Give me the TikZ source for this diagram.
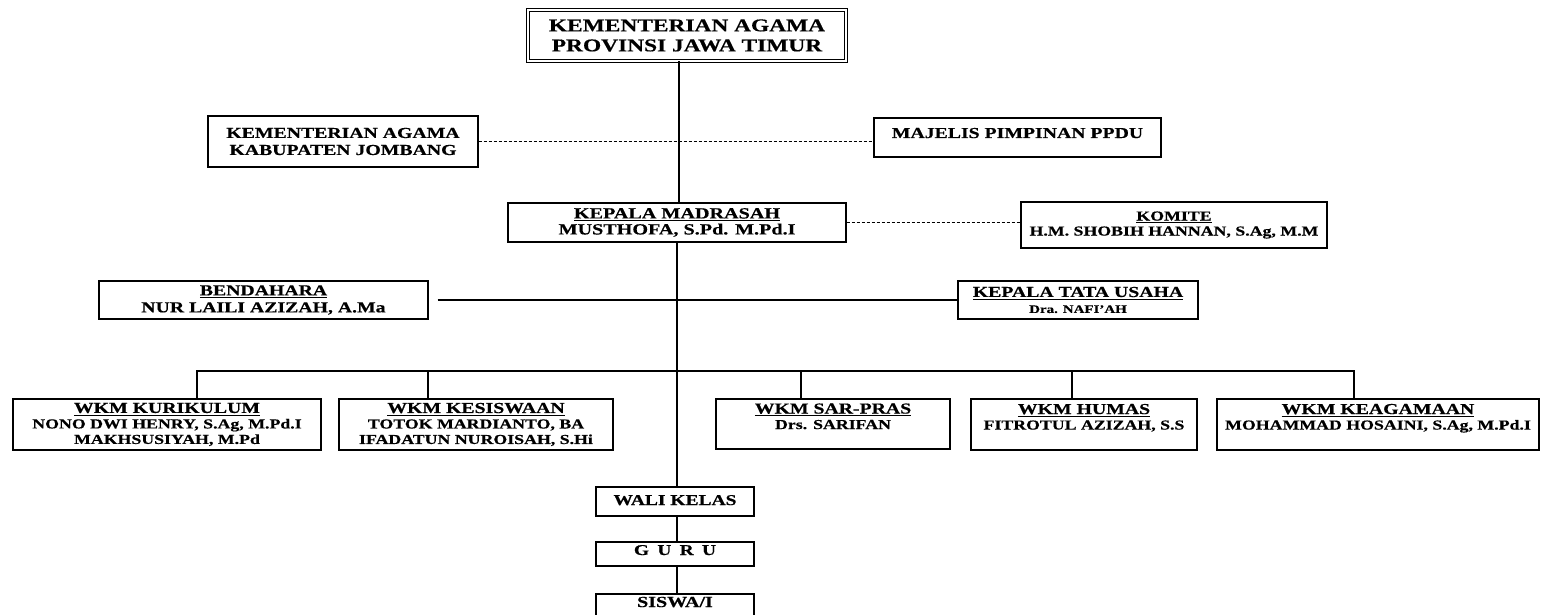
\documentclass[tikz,border=0pt]{standalone}
\usepackage{fontspec}
\setmainfont{Liberation Serif}[FakeStretch=1.3, BoldFeatures={FakeBold=0.5}]
\newcommand\myfs[2]{\fontsize{#1}{#2}\selectfont}
\newcommand\myul[1]{\setbox0\hbox{#1}\rlap{\vrule width\wd0 height -1.6pt depth 2.9pt}\box0}
\tikzset{
  box/.style={draw, line width=1.1pt, rectangle, inner sep=0pt, align=center, text=black},
  conn/.style={line width=1.3pt},
  dashconn/.style={line width=0.8pt, dash pattern=on 3pt off 2pt},
}
\begin{document}
\begin{tikzpicture}[x=1pt,y=-1pt]
\clip (0,0) rectangle (1541,615);
\fill[white] (0,0) rectangle (1541,615);

% top
\node[box, double, double distance=2pt, line width=0.9pt, minimum width=318, minimum height=51,
      font=\bfseries\myfs{18}{20}] (top) at (687,35.5) {KEMENTERIAN AGAMA\\PROVINSI JAWA TIMUR};

% second level
\node[box, minimum width=270, minimum height=51, font=\bfseries\myfs{15.2}{17}] (jombang) at (343,141.5)
  {KEMENTERIAN AGAMA\\KABUPATEN JOMBANG};
\node[box, minimum width=287, text height=20pt, text depth=19pt, font=\bfseries\myfs{15.2}{17}] (majelis) at (1017.5,137.5)
  {MAJELIS PIMPINAN PPDU};

% kepala madrasah & komite
\node[box, minimum width=338, minimum height=39, font=\bfseries\myfs{15.5}{16}] (kepala) at (677,222.5)
  {\myul{KEPALA MADRASAH}\\MUSTHOFA, S.Pd. M.Pd.I};
\node[box, minimum width=306, minimum height=46, font=\bfseries\myfs{13.7}{15}] (komite) at (1174,225)
  {\myul{KOMITE}\\H.M. SHOBIH HANNAN, S.Ag, M.M};

% bendahara & tata usaha
\node[box, minimum width=329, minimum height=38, font=\bfseries\myfs{15.2}{17}] (bend) at (263.5,300)
  {\myul{BENDAHARA}\\NUR LAILI AZIZAH, A.Ma};
\node[box, minimum width=240, minimum height=38, font=\bfseries\myfs{15.2}{16}] (ktu) at (1078,300)
  {\myul{KEPALA TATA USAHA}\\{\myfs{11.5}{16}Dra. NAFI'AH}};

% WKM row
\node[box, minimum width=308, minimum height=51, font=\bfseries\myfs{13.7}{15.5}] (kur) at (167,424.5)
  {{\myfs{15.2}{15.5}\myul{WKM KURIKULUM}}\\NONO DWI HENRY, S.Ag, M.Pd.I\\MAKHSUSIYAH, M.Pd};
\node[box, minimum width=274, minimum height=51, font=\bfseries\myfs{13.7}{15.5}] (kes) at (476,424.5)
  {{\myfs{15.2}{15.5}\myul{WKM KESISWAAN}}\\TOTOK MARDIANTO, BA\\IFADATUN NUROISAH, S.Hi};
\node[box, minimum width=234, minimum height=50, font=\bfseries\myfs{13.7}{15.5}] (sar) at (833,424)
  {{\myfs{15.2}{15.5}\myul{WKM SAR-PRAS}}\\Drs. SARIFAN\\\mbox{}};
\node[box, minimum width=226, minimum height=51, font=\bfseries\myfs{13.7}{15.5}] (hum) at (1084,424.5)
  {{\myfs{15.2}{15.5}\myul{WKM HUMAS}}\\FITROTUL AZIZAH, S.S\\\mbox{}};
\node[box, minimum width=322, minimum height=51, font=\bfseries\myfs{13.7}{15.5}] (kea) at (1378,424.5)
  {{\myfs{15.2}{15.5}\myul{WKM KEAGAMAAN}}\\MOHAMMAD HOSAINI, S.Ag, M.Pd.I\\\mbox{}};

% bottom chain
\node[box, minimum width=158, text height=18pt, text depth=11pt, font=\bfseries\myfs{15}{16}] (wali) at (675,501.5)
  {WALI KELAS};
\node[box, minimum width=158, text height=13pt, text depth=11pt, font=\bfseries\myfs{15}{16}] (guru) at (675,554)
  {{\spaceskip=0.55em G U R U}};
\node[box, minimum width=158, text height=13pt, text depth=11pt, font=\bfseries\myfs{15.4}{16}] (siswa) at (675,606)
  {SISWA/I};

% connectors
\coordinate (bus) at (677,371);
\draw[conn] ([xshift=2pt]kepala.north) -- ([xshift=2pt]kepala.north |- top.south);
\draw[dashconn] (jombang.east) -- (jombang.east -| majelis.west);
\draw[dashconn] (kepala.east) -- (kepala.east -| komite.west);
\draw[conn] ([xshift=9pt]bend.east) -- (ktu.west);
\draw[conn] (kepala.south) -- (kepala.south |- wali.north);
\draw[conn] ([xshift=30pt]kur.north) -- ([xshift=30pt]kur.north |- bus) -- ([xshift=-24pt]kea.north |- bus) -- ([xshift=-24pt]kea.north);
\draw[conn] ([xshift=-48pt]kes.north) -- ([xshift=-48pt]kes.north |- bus);
\draw[conn] ([xshift=-32pt]sar.north) -- ([xshift=-32pt]sar.north |- bus);
\draw[conn] ([xshift=-12pt]hum.north) -- ([xshift=-12pt]hum.north |- bus);
\draw[conn] ([xshift=2pt]wali.south) -- ([xshift=2pt]guru.north);
\draw[conn] ([xshift=2pt]guru.south) -- ([xshift=2pt]siswa.north);
\end{tikzpicture}
\end{document}
